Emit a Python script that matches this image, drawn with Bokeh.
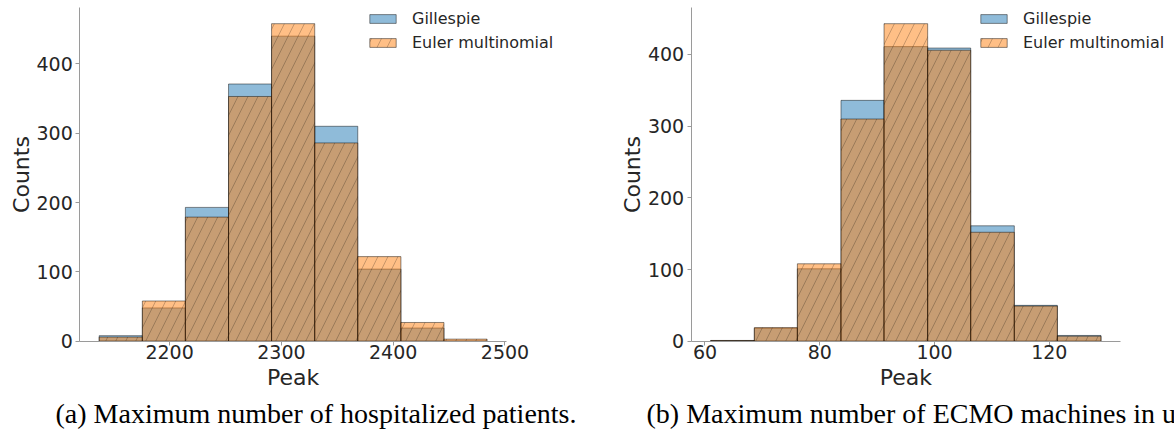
import numpy as np
from bokeh.plotting import figure
from bokeh.layouts import row
from bokeh.models import Range1d, FixedTicker, Legend, LegendItem, LinearAxis
from bokeh.core.properties import value
from bokeh.embed import file_html
from bokeh.resources import INLINE

# ---------------- data ----------------
series_names = ["Gillespie", "Euler multinomial"]

hosp_edges = [2137.0, 2175.6, 2214.1, 2252.7, 2291.2, 2329.8, 2368.3, 2406.9, 2445.4, 2484.0]
hosp_gillespie = [8, 48, 193, 371, 440, 310, 104, 19, 0]
hosp_euler = [6, 58, 179, 353, 458, 286, 122, 27, 3]
hosp_ticks = [2200, 2300, 2400, 2500]

ecmo_edges = [61.0, 68.6, 76.1, 83.7, 91.2, 98.8, 106.3, 113.9, 121.4, 129.0]
ecmo_gillespie = [1, 18, 101, 336, 411, 409, 161, 50, 8]
ecmo_euler = [1, 19, 108, 310, 443, 406, 152, 49, 7]
ecmo_ticks = [60, 80, 100, 120]

count_ticks = [0, 100, 200, 300, 400]
x_label = "Peak"
y_label = "Counts"
captions = ["(a) Maximum number of hospitalized patients.",
            "(b) Maximum number of ECMO machines in use."]

BLUE = "#1f77b4"
ORANGE = "#ff7f0e"
FONT = "DejaVu Sans"
SERIF = "Liberation Serif"
TEXT = "#262626"
AXIS = "#9a9a9a"

# ---------------- page geometry (pixels from the picture's top-left) ----------------
H = 442            # canvas height of both panels
TOP_PX = 7.3       # top of the axes
BASE_PX = 340.7    # y = 0 line
BL = 0.4           # baseline correction (fraction of font size) for text glyphs
PEAK_BASE_PX = 386 - BL * 22
CAPTION_BASE_PX = 424 - BL * 28
COUNTS_Y_PX = 174
COUNTS_GAP_PX = 50 + BL * 22


def make_panel(edges, gil, eul, xticks, caption, canvas_left, width,
               axis_left_px, axis_right_px, legend_x, cap_x_px, cap_align):
    edges = np.asarray(edges, dtype=float)
    left, right = edges[:-1], edges[1:]
    span = edges[-1] - edges[0]
    x0 = edges[0] - 0.05 * span
    x1 = edges[-1] + 0.05 * span
    ymax = max(max(gil), max(eul)) * 1.05

    kx = (axis_right_px - axis_left_px) / (x1 - x0)
    ky = (BASE_PX - TOP_PX) / ymax

    def X(px):
        return x0 + (px - axis_left_px) / kx

    def Y(py):
        return (BASE_PX - py) / ky

    p = figure(width=width, height=H, output_backend="svg", toolbar_location=None,
               x_range=Range1d(X(canvas_left), X(canvas_left + width)),
               y_range=Range1d(Y(H), Y(0)),
               x_axis_location=None, y_axis_location=None,
               min_border=0)
    p.outline_line_color = None
    p.grid.visible = False
    p.background_fill_color = "white"
    p.border_fill_color = "white"

    r1 = p.quad(left=left, right=right, bottom=0, top=gil,
                fill_color=BLUE, fill_alpha=0.5,
                line_color="black", line_alpha=0.45, line_width=1)
    r2 = p.quad(left=left, right=right, bottom=0, top=eul,
                fill_color=ORANGE, fill_alpha=0.5,
                hatch_pattern="/", hatch_color="black", hatch_alpha=0.22,
                hatch_scale=20, hatch_weight=1,
                line_color="black", line_alpha=0.45, line_width=1)

    xaxis = LinearAxis(fixed_location=0, bounds=(x0, x1), ticker=FixedTicker(ticks=xticks))
    yaxis = LinearAxis(fixed_location=x0, bounds=(0, ymax), ticker=FixedTicker(ticks=count_ticks))
    for ax in (xaxis, yaxis):
        ax.axis_line_color = AXIS
        ax.major_tick_line_color = AXIS
        ax.minor_tick_line_color = None
        ax.major_tick_in = 0
        ax.major_tick_out = 4
        ax.major_label_text_font = FONT
        ax.major_label_text_font_size = "19px"
        ax.major_label_text_color = TEXT
    xaxis.major_label_standoff = 0
    yaxis.major_label_standoff = 3
    p.add_layout(xaxis, "below")
    p.add_layout(yaxis, "left")

    # axis titles
    p.text(x=[(x0 + x1) / 2], y=[Y(PEAK_BASE_PX)], text=[x_label],
           text_font=value(FONT), text_font_size=value("22px"), text_color=TEXT,
           text_align="center", text_baseline="alphabetic")
    p.text(x=[X(axis_left_px - COUNTS_GAP_PX)], y=[Y(COUNTS_Y_PX)], text=[y_label],
           angle=np.pi / 2,
           text_font=value(FONT), text_font_size=value("22px"), text_color=TEXT,
           text_align="center", text_baseline="alphabetic")

    # sub-figure caption
    p.text(x=[X(cap_x_px)], y=[Y(CAPTION_BASE_PX)], text=[caption],
           text_font=value(SERIF), text_font_size=value("28px"), text_color="black",
           text_align=cap_align, text_baseline="alphabetic")

    legend = Legend(items=[LegendItem(label=series_names[0], renderers=[r1]),
                           LegendItem(label=series_names[1], renderers=[r2])],
                    location=(legend_x, H - 8.5 - 44), orientation="vertical",
                    border_line_color=None, background_fill_alpha=0,
                    padding=0, margin=0, spacing=4,
                    glyph_width=33, glyph_height=11, label_height=20,
                    label_standoff=13,
                    label_text_font=FONT, label_text_font_size="16px",
                    label_text_color=TEXT)
    p.add_layout(legend)
    return p


W1, W2 = 620, 554
p1 = make_panel(hosp_edges, hosp_gillespie, hosp_euler, hosp_ticks, captions[0],
                canvas_left=0, width=W1, axis_left_px=79.3, axis_right_px=506,
                legend_x=366, cap_x_px=315.5, cap_align="center")
p2 = make_panel(ecmo_edges, ecmo_gillespie, ecmo_euler, ecmo_ticks, captions[1],
                canvas_left=W1, width=W2, axis_left_px=690.7, axis_right_px=1120,
                legend_x=357, cap_x_px=646, cap_align="left")

layout = row(p1, p2, spacing=0)
open("out.html", "w").write(file_html(layout, INLINE))
